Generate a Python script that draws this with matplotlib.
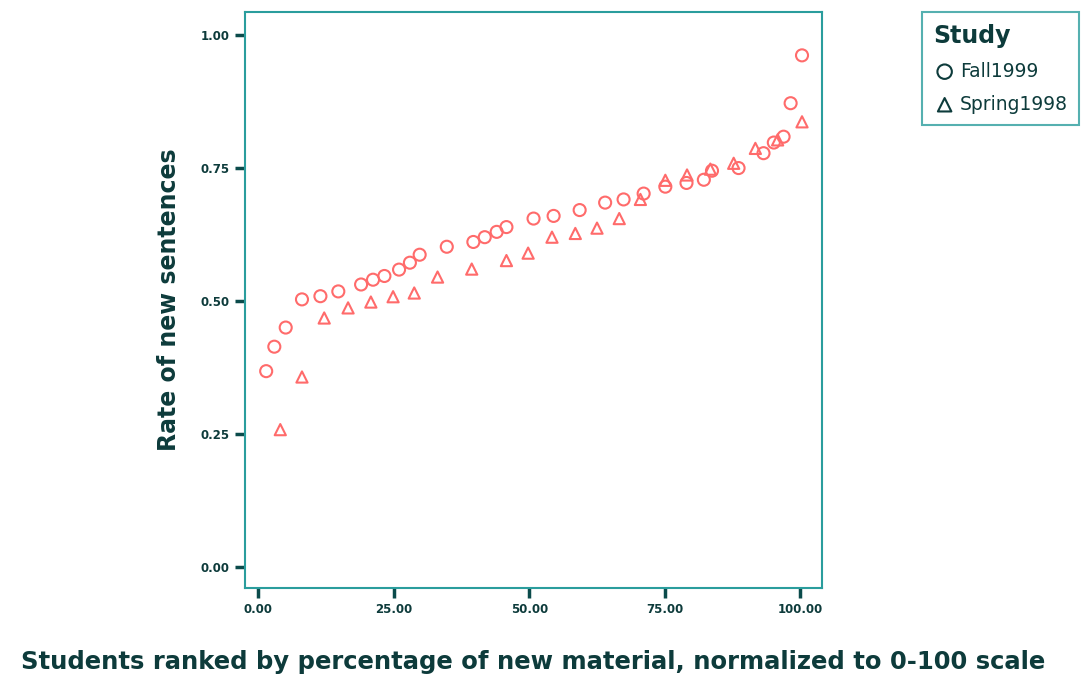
import matplotlib.pyplot as plt

# Fall1999 (circulos)
fall_x = [1.5, 3.0, 5.1, 8.1, 11.5, 14.8, 19.0, 21.2, 23.3, 26.0, 28.0, 29.8,
          34.8, 39.7, 41.8, 44.0, 45.8, 50.8, 54.5, 59.3, 64.0, 67.4, 71.1,
          75.1, 79.0, 82.2, 83.7, 88.6, 93.2, 95.1, 96.9, 98.2, 100.3]
fall_y = [0.368, 0.414, 0.450, 0.503, 0.509, 0.518, 0.531, 0.540, 0.547, 0.559,
          0.572, 0.587, 0.602, 0.611, 0.620, 0.630, 0.639, 0.655, 0.660, 0.671,
          0.685, 0.691, 0.702, 0.715, 0.722, 0.728, 0.745, 0.750, 0.778, 0.798,
          0.809, 0.872, 0.962]

# Spring1998 (triangulos)
spring_x = [4.1, 8.1, 12.2, 16.6, 20.8, 24.9, 28.8, 33.1, 39.4, 45.8, 49.8,
            54.2, 58.5, 62.5, 66.6, 70.5, 75.1, 79.1, 83.4, 87.7, 91.7, 95.8, 100.3]
spring_y = [0.258, 0.357, 0.468, 0.487, 0.498, 0.508, 0.515, 0.545, 0.560, 0.576,
            0.590, 0.620, 0.627, 0.637, 0.655, 0.691, 0.727, 0.737, 0.748, 0.759,
            0.787, 0.803, 0.837]

xticks = [0, 25, 50, 75, 100]
yticks = [0, 0.25, 0.5, 0.75, 1.0]

texto = '#0d3b3b'
borde = '#2a9d9d'
rojo = '#ff6b6b'

fig = plt.figure(figsize=(10.9, 6.83), dpi=100)
ax = fig.add_axes([0.2248, 0.139, 0.5294, 0.843])

ax.scatter(fall_x, fall_y, marker='o', s=75, facecolors='none',
           edgecolors=rojo, linewidths=1.5, label='Fall1999')
ax.scatter(spring_x, spring_y, marker='^', s=65, facecolors='none',
           edgecolors=rojo, linewidths=1.5, label='Spring1998')

ax.set_xlim(-2.4, 104)
ax.set_ylim(-0.04, 1.043)
ax.set_xticks(xticks)
ax.set_yticks(yticks)
ax.set_xticklabels(['%.2f' % v for v in xticks])
ax.set_yticklabels(['%.2f' % v for v in yticks])

for s in ax.spines.values():
    s.set_color(borde)
    s.set_linewidth(1.5)
ax.tick_params(direction='out', length=7, width=2.5, color='#0b4b4b',
               labelcolor=texto, labelsize=8.5, pad=4)
for lab in ax.get_xticklabels() + ax.get_yticklabels():
    lab.set_fontweight('semibold')

ax.set_ylabel('Rate of new sentences', fontsize=17, fontweight='bold',
              color=texto, labelpad=14)
ax.set_xlabel('Students ranked by percentage of new material, normalized to 0-100 scale',
              fontsize=17.5, fontweight='bold', color=texto, labelpad=24)

leg = fig.legend(loc='upper left', bbox_to_anchor=(0.846, 0.982), title='Study',
                 frameon=True, fancybox=False, edgecolor=borde, fontsize=13.5,
                 handletextpad=0.2, borderpad=0.6, labelspacing=0.75,
                 handlelength=1.2, alignment='left', borderaxespad=0,
                 markerscale=1.2)
leg.get_frame().set_linewidth(1.5)
leg.get_title().set_fontweight('bold')
leg.get_title().set_fontsize(17)
leg.get_title().set_color(texto)
for t in leg.get_texts():
    t.set_color(texto)
for h in leg.legend_handles:
    h.set_edgecolor(texto)

fig.savefig('out.png', dpi=100)
